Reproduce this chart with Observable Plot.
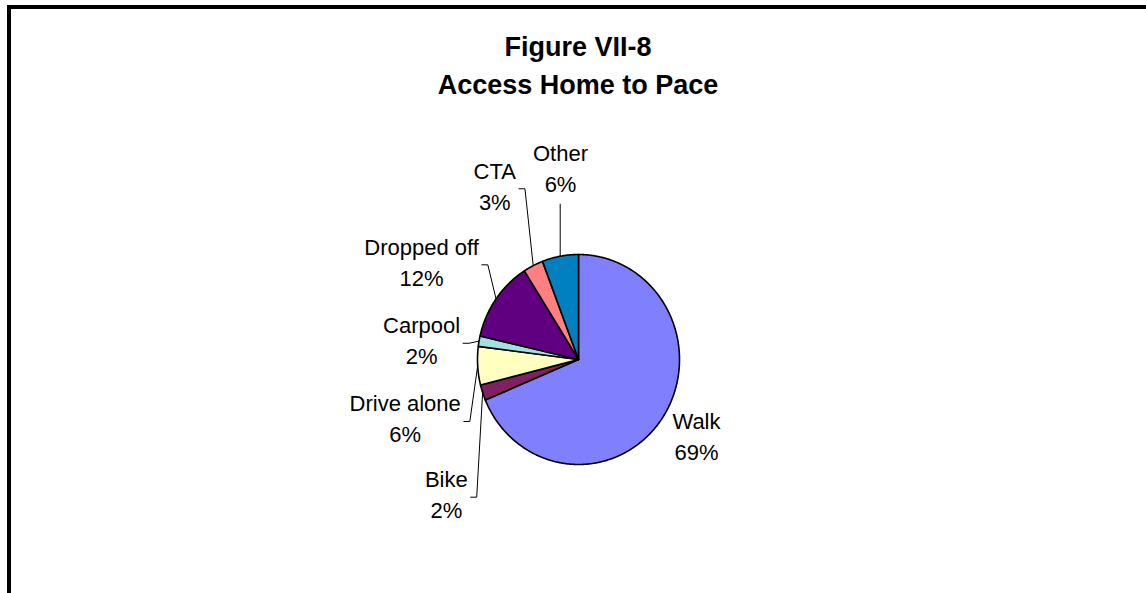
<!DOCTYPE html>
<html><head><meta charset="utf-8">
<script src="https://cdn.jsdelivr.net/npm/d3@7"></script>
<script src="https://cdn.jsdelivr.net/npm/@observablehq/plot@0.6"></script>
<style>
html,body{margin:0;padding:0;background:#fff;}
#wrap{position:relative;width:1146px;height:593px;overflow:hidden;font-family:"Liberation Sans",Arial,sans-serif;background:#fff;}
#frame{position:absolute;left:7px;top:5px;width:1200px;height:700px;border-top:4px solid #000;border-left:4px solid #000;}
#title{position:absolute;left:278px;top:28px;width:600px;text-align:center;font-weight:bold;font-size:27px;line-height:38px;color:#000;}
#chart{position:absolute;left:0;top:0;}
</style></head><body>
<div id="wrap"><div id="frame"></div><div id="title">Figure VII-8<br>Access Home to Pace</div><div id="chart"></div></div>
<script>
// ---- data ----
const categories = ["Walk", "Bike", "Drive alone", "Carpool", "Dropped off", "CTA", "Other"];
const values = [68.7, 2.4, 5.9, 1.6, 12.4, 3.2, 5.8];
const colors = ["#8080FF", "#802060", "#FFFFC0", "#A0E0E0", "#600080", "#FF8080", "#0080C0"];
// ---- layout (label anchor in pie-radius units: centre x, baseline of first line) ----
const labelAt = [[1.168, -0.660], [-1.309, -1.216], [-1.716, -0.495], [-1.554, 0.250], [-1.554, 0.997], [-0.829, 1.721], [-0.178, 1.889]];
const leaderKind = ["none", "elbow", "elbow", "elbow", "elbow", "elbow", "below"];

const CX = 578, CY = 359, RX = 101, RY = 105, FS = 22, LINE = 31;

const total = d3.sum(values);
let acc = 0;
const slices = categories.map((name, i) => {
  const a0 = acc / total * 2 * Math.PI; acc += values[i];
  const a1 = acc / total * 2 * Math.PI;
  return {name, i, a0, a1, mid: (a0 + a1) / 2, pct: Math.round(values[i]) + "%"};
});

const piePts = slices.flatMap(s => {
  const n = Math.max(2, Math.ceil((s.a1 - s.a0) / (Math.PI / 360)));
  const pts = [{name: s.name, x: 0, y: 0}];
  for (let k = 0; k <= n; k++) {
    const a = s.a0 + (s.a1 - s.a0) * k / n;
    pts.push({name: s.name, x: Math.sin(a), y: Math.cos(a)});
  }
  pts.push({name: s.name, x: 0, y: 0});
  return pts;
});

const ctx = document.createElement("canvas").getContext("2d");
ctx.font = FS + "px 'Liberation Sans', Arial";

const labels = slices.map(s => ({name: s.name, pct: s.pct, u: labelAt[s.i][0], v: labelAt[s.i][1]}));

const leaderPts = slices.flatMap(s => {
  const kind = leaderKind[s.i];
  if (kind === "none") return [];
  const [u, v] = labelAt[s.i];
  const sx = Math.sin(s.mid), sy = Math.cos(s.mid);
  if (kind === "below") {
    return [{name: s.name, x: sx, y: sy}, {name: s.name, x: sx, y: v - (LINE + 12) / RY}];
  }
  const halfW = Math.max(ctx.measureText(s.name).width, ctx.measureText(s.pct).width) / 2;
  const ex = u + (halfW + 3) / RX, ey = v - 10 / RY;
  return [{name: s.name, x: sx, y: sy}, {name: s.name, x: ex + 6 / RX, y: ey}, {name: s.name, x: ex, y: ey}];
});

const chart = Plot.plot({
  width: 1146, height: 593, margin: 0,
  style: {background: "transparent", fontFamily: "'Liberation Sans', Arial, sans-serif", color: "#000", overflow: "visible"},
  x: {domain: [-1, 1], range: [CX - RX, CX + RX], axis: null},
  y: {domain: [-1, 1], range: [CY + RY, CY - RY], axis: null},
  color: {domain: categories, range: colors},
  marks: [
    Plot.line(piePts, {x: "x", y: "y", z: "name", fill: "name", stroke: "#000", strokeWidth: 1.6, strokeLinejoin: "round"}),
    Plot.line(leaderPts, {x: "x", y: "y", z: "name", stroke: "#000", strokeWidth: 1}),
    Plot.text(labels, {x: "u", y: "v", text: "name", fontSize: FS, lineAnchor: "bottom", textAnchor: "middle", fill: "#000"}),
    Plot.text(labels, {x: "u", y: "v", text: "pct", dy: LINE, fontSize: FS, lineAnchor: "bottom", textAnchor: "middle", fill: "#000"})
  ]
});
document.getElementById("chart").appendChild(chart);
</script>
</body></html>
